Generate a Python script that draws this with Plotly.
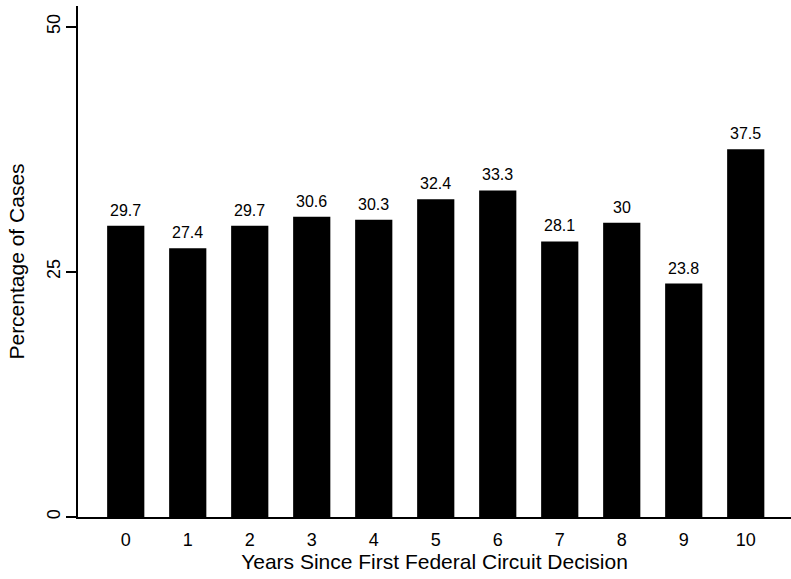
import plotly.graph_objects as go

years = [0, 1, 2, 3, 4, 5, 6, 7, 8, 9, 10]
percentages = [29.7, 27.4, 29.7, 30.6, 30.3, 32.4, 33.3, 28.1, 30, 23.8, 37.5]
labels = ["29.7", "27.4", "29.7", "30.6", "30.3", "32.4", "33.3", "28.1", "30", "23.8", "37.5"]
y_ticks = [0, 25, 50]

FONT = "Liberation Sans, Arial, Helvetica, sans-serif"

fig = go.Figure(go.Bar(
    x=years, y=percentages, width=0.6,
    marker=dict(color="black", line=dict(width=0)),
    hoverinfo="x+y",
))

for xv, yv, lab in zip(years, percentages, labels):
    fig.add_annotation(
        x=xv, y=yv, text=lab, showarrow=False,
        yanchor="bottom", yshift=5,
        font=dict(family=FONT, size=16, color="black"),
    )

fig.update_layout(
    width=791, height=579,
    margin=dict(l=78, r=0, t=6, b=62),
    paper_bgcolor="white", plot_bgcolor="white",
    showlegend=False,
    font=dict(family=FONT, color="black"),
)
fig.update_xaxes(
    range=[-0.77, 10.73], tickvals=years, ticks="",
    showline=True, linecolor="black", linewidth=1.5,
    showgrid=False, zeroline=False,
    tickfont=dict(size=18), ticklabelstandoff=6,
    title=dict(text="Years Since First Federal Circuit Decision", font=dict(size=21), standoff=5),
)
fig.update_yaxes(
    range=[0, 52.1], tickvals=y_ticks, ticks="outside", ticklen=10, tickwidth=1.5,
    tickcolor="black", tickangle=-90,
    showline=True, linecolor="black", linewidth=1.5,
    showgrid=False, zeroline=False,
    tickfont=dict(size=18), ticklabelstandoff=-1,
    title=dict(text="Percentage of Cases", font=dict(size=21), standoff=14),
)

fig.write_html(
    "out.html",
    config={"displayModeBar": False},
    post_script="document.body.style.margin='0';document.body.style.overflow='hidden';",
)
